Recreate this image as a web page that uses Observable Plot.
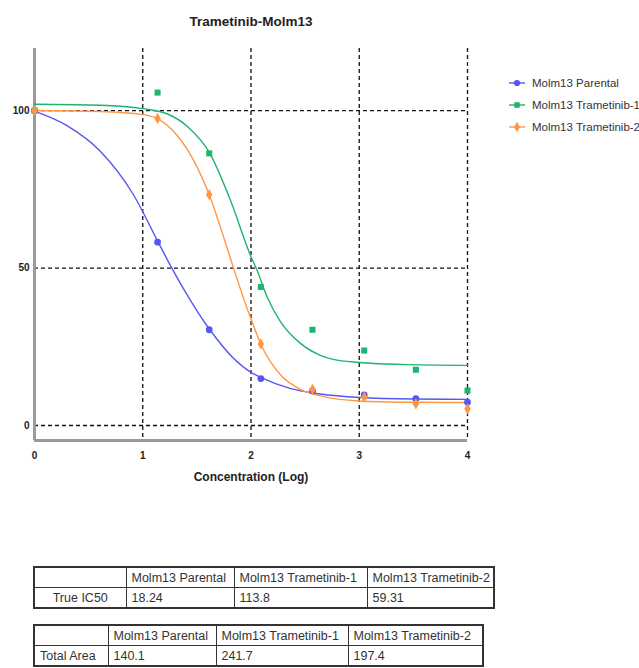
<!DOCTYPE html>
<html><head><meta charset="utf-8">
<script src="https://cdn.jsdelivr.net/npm/d3@7"></script>
<script src="https://cdn.jsdelivr.net/npm/@observablehq/plot@0.6"></script>
<style>
body{margin:0;background:#fff;font-family:"Liberation Sans Narrow","Liberation Sans",Arial,sans-serif;}
#wrap{position:relative;width:639px;height:668px;overflow:hidden;background:#fff;}
#chart{position:absolute;left:0;top:0;}
.legend{position:absolute;left:508px;top:72px;font-size:11.5px;color:#333;white-space:nowrap;}
.legend .row{height:22px;display:flex;align-items:center;}
.legend svg{margin-right:6px;}
table{position:absolute;border-collapse:collapse;font-size:12.5px;color:#333;border:2px solid #333;table-layout:fixed;}
td{border:1px solid #333;padding:0 5px;height:19px;white-space:nowrap;overflow:hidden;}
</style></head><body>
<div id="wrap"><div id="chart"></div><div class="legend" id="legend"></div>
<table id="t1"></table><table id="t2"></table></div>
<script>
// ---------- data ----------
const title = "Trametinib-Molm13";
const xLabel = "Concentration (Log)";
const seriesNames = ["Molm13 Parental", "Molm13 Trametinib-1", "Molm13 Trametinib-2"];
const seriesColors = ["#5656f2", "#1cb46f", "#ff9646"];
const seriesSymbols = ["circle", "square", "diamond"];
const xTicks = [0, 1, 2, 3, 4];
const yTicks = [0, 50, 100];

const conc = [0, 1.137, 1.614, 2.091, 2.568, 3.046, 3.523, 4];
const parental = [100, 58.2, 30.4, 14.9, 11.0, 9.7, 8.5, 7.4];
const trametinib1 = [100, 105.7, 86.4, 44.0, 30.4, 23.8, 17.7, 11.1];
const trametinib2 = [100, 97.5, 73.3, 25.9, 11.5, 9.0, 6.9, 5.3];

const fitParentalX = [0, 0.3, 0.61, 0.91, 1.14, 1.26, 1.35, 1.62, 1.84, 2.0, 2.09, 2.36, 2.64, 3.0, 3.5, 4];
const fitParentalY = [99.8, 95.2, 87.0, 73.5, 58.4, 50.5, 45.0, 30.4, 21.3, 16.9, 15.3, 11.8, 10.0, 8.9, 8.4, 8.3];
const fitTram1X = [0, 0.61, 1.0, 1.23, 1.41, 1.62, 1.81, 2.0, 2.057, 2.15, 2.27, 2.46, 2.64, 2.76, 3.0, 3.38, 4];
const fitTram1Y = [102, 101.7, 100.6, 98.9, 95.0, 86.4, 71.5, 53.6, 49.2, 40.7, 33.1, 26.0, 22.3, 21.0, 20.0, 19.4, 19.1];
const fitTram2X = [0, 0.61, 1.0, 1.13, 1.32, 1.47, 1.614, 1.78, 1.84, 2.0, 2.09, 2.27, 2.46, 2.64, 3.0, 3.5, 4];
const fitTram2Y = [100, 99.7, 98.7, 97.5, 92.0, 84.2, 73.3, 56.3, 49.8, 33.8, 25.9, 16.2, 11.4, 9.4, 7.8, 7.4, 7.3];

const ic50Values = ["18.24", "113.8", "59.31"];
const areaValues = ["140.1", "241.7", "197.4"];

// ---------- build tables ----------
const pointSets = [parental, trametinib1, trametinib2];
const pointRows = [];
pointSets.forEach((vals, i) => vals.forEach((v, j) => pointRows.push({series: seriesNames[i], x: conc[j], y: v})));
const fitSets = [[fitParentalX, fitParentalY], [fitTram1X, fitTram1Y], [fitTram2X, fitTram2Y]];
const fitRows = [];
fitSets.forEach(([xs, ys], i) => xs.forEach((xv, j) => fitRows.push({series: seriesNames[i], x: xv, y: ys[j]})));

const xDomain = [0, 4];
const yDomain = [-4.76, 119.7];
const fontFam = '"Liberation Sans Narrow","Liberation Sans",Arial,sans-serif';
const grid = {stroke: "#111", strokeWidth: 1.3, strokeDasharray: "4,3"};

const chart = Plot.plot({
  width: 639, height: 500,
  marginLeft: 34, marginRight: 172, marginTop: 48, marginBottom: 60,
  x: {domain: xDomain, label: null},
  y: {domain: yDomain, label: null},
  color: {domain: seriesNames, range: seriesColors},
  symbol: {domain: seriesNames, range: seriesSymbols},
  style: {fontFamily: fontFam, fontSize: "10px", color: "#222", background: "white", overflow: "visible"},
  marks: [
    Plot.ruleX(xTicks.filter(d => d > xDomain[0]), {...grid}),
    Plot.ruleY(yTicks, {x1: xDomain[0], x2: xDomain[1], ...grid}),
    Plot.ruleX([xDomain[0]], {stroke: "#9a9a9a", strokeWidth: 3}),
    Plot.ruleY([yDomain[0]], {x1: xDomain[0], x2: xDomain[1], stroke: "#9a9a9a", strokeWidth: 3}),
    Plot.axisX({ticks: xTicks, tickSize: 0, tickPadding: 11, fontWeight: "bold", tickFormat: d => String(d), label: null}),
    Plot.axisY({ticks: yTicks, tickSize: 0, tickPadding: 5, fontWeight: "bold", tickFormat: d => String(d), label: null}),
    Plot.line(fitRows, {x: "x", y: "y", stroke: "series", z: "series", curve: "monotone-x", strokeWidth: 1.4}),
    Plot.dot(pointRows, {x: "x", y: "y", fill: "series", symbol: "series", r: 3.4}),
    Plot.text([title], {text: d => d, frameAnchor: "top", dy: -32, fontWeight: "bold", fontSize: 13.5, fill: "#222"}),
    Plot.text([xLabel], {text: d => d, frameAnchor: "bottom", dy: 40, fontWeight: "bold", fontSize: 12, fill: "#222"})
  ]
});
document.getElementById("chart").appendChild(chart);

// legend
const legend = document.getElementById("legend");
seriesNames.forEach((name, i) => {
  const row = document.createElement("div");
  row.className = "row";
  const sym = d3.symbol(i === 0 ? d3.symbolCircle : i === 1 ? d3.symbolSquare : d3.symbolDiamond, 30)();
  row.innerHTML = `<svg width="18" height="10"><line x1="1" x2="17" y1="5" y2="5" stroke="${seriesColors[i]}" stroke-width="1.4"/><path transform="translate(9,5)" d="${sym}" fill="${seriesColors[i]}"/></svg><span>${name}</span>`;
  legend.appendChild(row);
});

function buildTable(id, rowLabel, values, left, top, colWidths, labelAlign) {
  const t = document.getElementById(id);
  t.style.left = left + "px"; t.style.top = top + "px";
  t.style.width = colWidths.reduce((a, b) => a + b, 0) + "px";
  const cg = colWidths.map(w => `<col style="width:${w}px">`).join("");
  const head = `<tr><td></td>${seriesNames.map(n => `<td>${n}</td>`).join("")}</tr>`;
  const body = `<tr><td style="text-align:${labelAlign}">${rowLabel}</td>${values.map(v => `<td>${v}</td>`).join("")}</tr>`;
  t.innerHTML = `<colgroup>${cg}</colgroup>${head}${body}`;
}
buildTable("t1", "True IC50", ic50Values, 33, 566, [92, 108, 133, 127], "center");
buildTable("t2", "Total Area", areaValues, 33, 624, [74, 108, 132, 135], "left");
</script>
</body></html>
